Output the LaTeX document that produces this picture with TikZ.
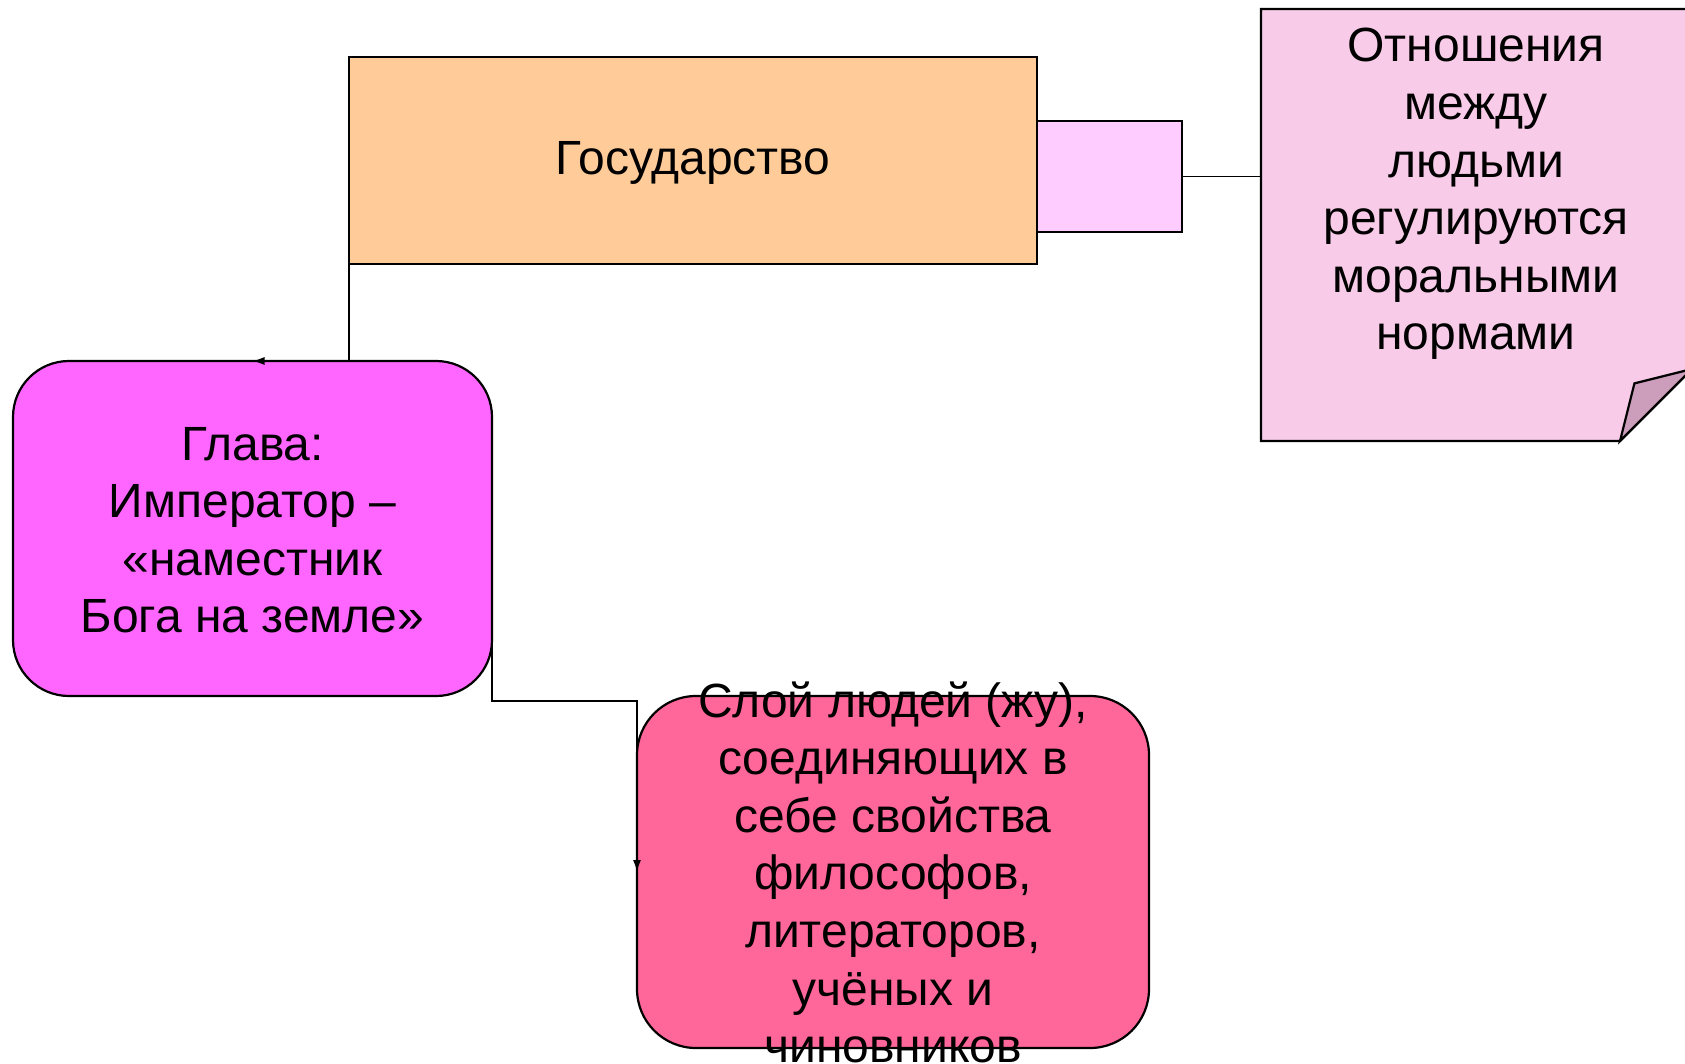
\documentclass[tikz,border=0pt]{standalone}
\usepackage{fontspec}
\setmainfont{Liberation Sans}
\usetikzlibrary{arrows.meta}
\def\boxline{2.2pt}

\definecolor{gosorange}{RGB}{255,204,153}
\definecolor{tabpink}{RGB}{255,204,255}
\definecolor{notepink}{RGB}{248,204,232}
\definecolor{foldpink}{RGB}{204,158,188}
\definecolor{glavamagenta}{RGB}{255,102,255}
\definecolor{sloipink}{RGB}{255,102,153}

\begin{document}
\begin{tikzpicture}[x=1pt,y=1pt,>={Latex[length=12pt,width=8pt]},line width=1.6pt]
    \tikzstyle{block}=[draw=black,line width=\boxline,inner sep=0pt,outer sep=0pt]
    \tikzstyle{round block}=[block,rounded corners=56pt]
    \tikzstyle{boxtext}=[text width=560pt,align=flush center,anchor=base,inner sep=0pt,
        font=\fontsize{48}{57.6}\selectfont]

    \useasboundingbox (0,0) rectangle (1685,-1064);

    % Draw the boxes
    \node[block, fill=gosorange, minimum width=688pt, minimum height=207pt] (gos) at (693,-160.5) {};
    \node[block, fill=tabpink, minimum width=145pt, minimum height=111pt] (tab) at (1109.5,-176.5) {};
    \node[round block, fill=glavamagenta, minimum width=479pt, minimum height=335pt] (glava) at (252.5,-528.5) {};
    \node[round block, rounded corners=59pt, fill=sloipink, minimum width=512pt, minimum height=352pt] (sloi) at (893,-872) {};

    % Draw the note with its folded corner
    \coordinate (note-nw) at (1261,-9);
    \coordinate (note-sw) at (1261,-441);
    \coordinate (fold-b) at (1620,-441);
    \coordinate (fold-r) at (1692,-369);
    \draw[line width=\boxline, fill=notepink] (note-nw) -- (1692,-9) -- (fold-r) -- (fold-b) -- (note-sw) -- cycle;
    \draw[line width=\boxline, fill=foldpink] (fold-b) -- (1634.4,-383.4) -- (fold-r) -- cycle;

    % Texts of the boxes
    \node[boxtext] (gos-text) at (693,-175) {Государство};
    \node[boxtext] (note-text) at (1476,-62) {Отношения\\между\\людьми\\регулируются\\моральными\\нормами};
    \node[boxtext] (glava-text) at (252.5,-460) {Глава:\\Император –\\«наместник\\Бога на земле»};
    \node[boxtext] (sloi-text) at (893,-717) {Слой людей (жу),\\соединяющих в\\себе свойства\\философов,\\литераторов,\\учёных и\\чиновников};

    % Connect the boxes
    \draw (tab.east) -- (tab.east -| note-nw);
    \draw[->] (gos.south west) |- (glava.north);
    \coordinate (bend) at (sloi.west |- 0,-701);
    \draw[->] (glava.east) |- (bend) -- (sloi.west);
\end{tikzpicture}
\end{document}
